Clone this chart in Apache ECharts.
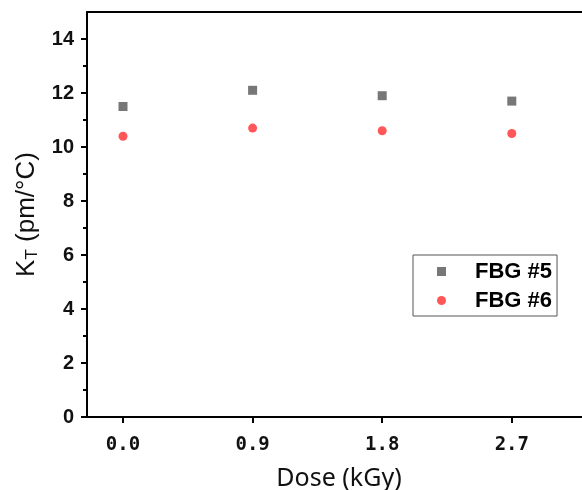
<!DOCTYPE html>
<html>
<head>
<meta charset="utf-8">
<script src="https://cdn.jsdelivr.net/npm/echarts@6/dist/echarts.min.js"></script>
<style>
  html, body { margin: 0; padding: 0; background: #fff; }
  #chart { width: 582px; height: 490px; }
</style>
</head>
<body>
<div id="chart"></div>
<script>
// Temperature sensitivity of two FBGs versus irradiation dose
const doses = [0.0, 0.9, 1.8, 2.7];
const fbg5 = [11.5, 12.1, 11.9, 11.7];
const fbg6 = [10.4, 10.7, 10.6, 10.5];
const seriesNames = ['FBG #5', 'FBG #6'];
const yMajorTicks = [0, 2, 4, 6, 8, 10, 12, 14];
const yMinorTicks = [1, 3, 5, 7, 9, 11, 13];
const xTicks = [0.0, 0.9, 1.8, 2.7];

const chart = echarts.init(document.getElementById('chart'), null, { renderer: 'canvas' });

const axisLine = { show: true, onZero: false, lineStyle: { color: '#000', width: 2 } };

chart.setOption({
  animation: false,
  backgroundColor: '#fff',
  grid: { left: 87, top: 12, right: -9, bottom: 73, containLabel: false, outerBoundsMode: 'none' },
  legend: {
    orient: 'vertical',
    left: 413, top: 255,
    padding: [2, 5, 1, 24],
    itemGap: 0,
    itemWidth: 9,
    itemHeight: 9,
    borderColor: '#555',
    borderWidth: 1,
    textStyle: {
      fontFamily: 'Liberation Sans', fontWeight: 'bold', fontSize: 22,
      color: '#000', lineHeight: 29, padding: [0, 0, 0, 24]
    },
    data: seriesNames
  },
  xAxis: [
    {
      type: 'value', min: -0.25, max: 3.25, position: 'bottom',
      axisLine: axisLine,
      axisTick: { show: true, inside: false, length: 6, lineStyle: { width: 2, color: '#000' }, customValues: xTicks },
      axisLabel: {
        customValues: xTicks, margin: 19,
        formatter: v => v.toFixed(1),
        fontFamily: 'DejaVu Sans Mono', fontWeight: 'bold', fontSize: 19, color: '#111'
      },
      splitLine: { show: false },
      name: 'Dose (kGy)', nameLocation: 'middle', nameGap: 49,
      nameTextStyle: { fontFamily: 'Noto Sans', fontSize: 25, color: '#111' }
    },
    {
      type: 'value', min: -0.25, max: 3.25, position: 'top',
      axisLine: axisLine, axisTick: { show: false }, axisLabel: { show: false },
      splitLine: { show: false }
    }
  ],
  yAxis: [
    {
      type: 'value', min: 0, max: 15, position: 'left',
      axisLine: axisLine,
      axisTick: { show: true, length: 6, lineStyle: { width: 2, color: '#000' }, customValues: yMajorTicks },
      axisLabel: {
        customValues: yMajorTicks, margin: 13,
        fontFamily: 'Liberation Sans', fontWeight: 'bold', fontSize: 20, color: '#111'
      },
      splitLine: { show: false },
      name: '{k|K}{s|T}{k| (pm/°C)}', nameLocation: 'middle', nameGap: 44,
      nameTextStyle: {
        rich: {
          k: { fontFamily: 'Liberation Sans', fontSize: 26, color: '#111' },
          s: { fontFamily: 'Liberation Sans', fontSize: 17, color: '#111', padding: [12, 0, 0, 0] }
        }
      }
    },
    {
      type: 'value', min: 0, max: 15, position: 'left',
      axisLine: { show: false, onZero: false },
      axisTick: { show: true, length: 4, lineStyle: { width: 2, color: '#000' }, customValues: yMinorTicks },
      axisLabel: { show: false },
      splitLine: { show: false }
    }
  ],
  series: [
    {
      name: seriesNames[0], type: 'scatter', symbol: 'rect', symbolSize: 9,
      itemStyle: { color: '#555555' },
      data: doses.map((d, i) => [d, fbg5[i]])
    },
    {
      name: seriesNames[1], type: 'scatter', symbol: 'circle', symbolSize: 9,
      itemStyle: { color: '#ff2d2d' },
      data: doses.map((d, i) => [d, fbg6[i]])
    }
  ]
});
</script>
</body>
</html>
